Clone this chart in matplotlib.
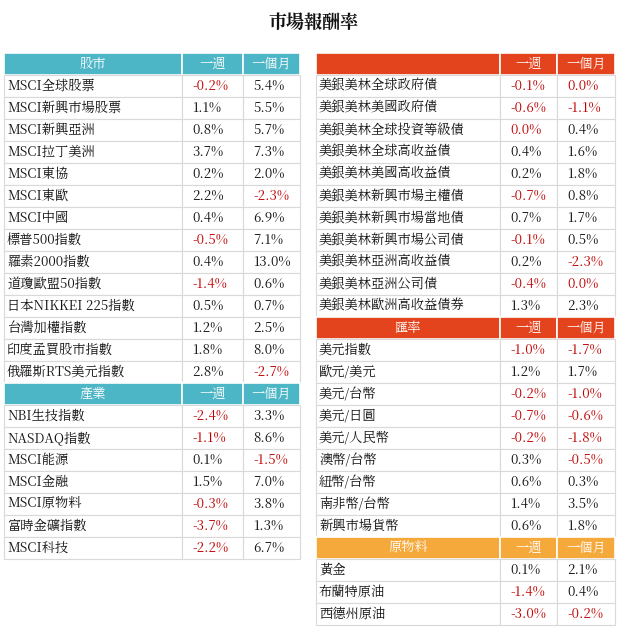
import matplotlib.pyplot as plt
from matplotlib import font_manager
from matplotlib.patches import Rectangle

cjk = [f.name for f in font_manager.fontManager.ttflist if "CJK" in f.name]
pref = [n for n in cjk if "TC" in n] or cjk
plt.rcParams["font.family"] = "sans-serif"
plt.rcParams["font.sans-serif"] = (pref[:1] if pref else []) + ["Noto Sans CJK TC", "DejaVu Sans"]

TITLE = "市場報酬率"
COL_WEEK = "一週"
COL_MONTH = "一個月"

# left block: names, week %, month %
stock_names = ["MSCI全球股票", "MSCI新興市場股票", "MSCI新興亞洲", "MSCI拉丁美洲", "MSCI東協",
               "MSCI東歐", "MSCI中國", "標普500指數", "羅素2000指數", "道瓊歐盟50指數",
               "日本NIKKEI 225指數", "台灣加權指數", "印度孟買股市指數", "俄羅斯RTS美元指數"]
stock_week = [-0.2, 1.1, 0.8, 3.7, 0.2, 2.2, 0.4, -0.5, 0.4, -1.4, 0.5, 1.2, 1.8, 2.8]
stock_month = [5.4, 5.5, 5.7, 7.3, 2.0, -2.3, 6.9, 7.1, 13.0, 0.6, 0.7, 2.5, 8.0, -2.7]

sector_names = ["NBI生技指數", "NASDAQ指數", "MSCI能源", "MSCI金融", "MSCI原物料", "富時金礦指數", "MSCI科技"]
sector_week = [-2.4, -1.1, 0.1, 1.5, -0.3, -3.7, -2.2]
sector_month = [3.3, 8.6, -1.5, 7.0, 3.8, 1.3, 6.7]

bond_names = ["美銀美林全球政府債", "美銀美林美國政府債", "美銀美林全球投資等級債", "美銀美林全球高收益債",
              "美銀美林美國高收益債", "美銀美林新興市場主權債", "美銀美林新興市場當地債", "美銀美林新興市場公司債",
              "美銀美林亞洲高收益債", "美銀美林亞洲公司債", "美銀美林歐洲高收益債券"]
bond_week = [-0.1, -0.6, 0.0, 0.4, 0.2, -0.7, 0.7, -0.1, 0.2, -0.4, 1.3]
bond_month = [0.0, -1.1, 0.4, 1.6, 1.8, 0.8, 1.7, 0.5, -2.3, 0.0, 2.3]
bond_week_red = [True, True, True, False, False, True, False, True, False, True, False]
bond_month_red = [True, True, False, False, False, False, False, False, True, True, False]

fx_names = ["美元指數", "歐元/美元", "美元/台幣", "美元/日圓", "美元/人民幣", "澳幣/台幣", "紐幣/台幣", "南非幣/台幣", "新興市場貨幣"]
fx_week = [-1.0, 1.2, -0.2, -0.7, -0.2, 0.3, 0.6, 1.4, 0.6]
fx_month = [-1.7, 1.7, -1.0, -0.6, -1.8, -0.5, 0.3, 3.5, 1.8]

cmd_names = ["黃金", "布蘭特原油", "西德州原油"]
cmd_week = [0.1, -1.4, -3.0]
cmd_month = [2.1, 0.4, -0.2]

TEAL = "#4db6c6"
RED_HDR = "#e4441d"
ORANGE_HDR = "#f6a93b"
NEG = "#c00000"
GRID = "#d9d9d9"

fig = plt.figure(figsize=(6.27, 6.30), dpi=100)
ax = fig.add_axes([0, 0, 1, 1])
ax.set_xlim(0, 627)
ax.set_ylim(630, 0)
ax.axis("off")

ax.text(313, 23, TITLE, ha="center", va="center", fontsize=13, fontweight="bold", color="#111111")

ROW_H = 22.0
FS = 9.5


def fmt(v):
    return f"{v:.1f}%"


def draw_section(x0, cols, y, header, color, names, week, month, wred=None, mred=None):
    xs = [x0, x0 + cols[0], x0 + cols[0] + cols[1], x0 + sum(cols)]
    for i in range(3):
        ax.add_patch(Rectangle((xs[i], y), xs[i + 1] - xs[i], ROW_H, facecolor=color,
                               edgecolor="white", linewidth=1.2))
    labels = [header, COL_WEEK, COL_MONTH]
    for i in range(3):
        ax.text((xs[i] + xs[i + 1]) / 2, y + ROW_H / 2, labels[i], ha="center", va="center",
                color="white", fontsize=FS)
    y += ROW_H
    for k, name in enumerate(names):
        for i in range(3):
            ax.add_patch(Rectangle((xs[i], y), xs[i + 1] - xs[i], ROW_H, facecolor="white",
                                   edgecolor=GRID, linewidth=0.8))
        ax.text(xs[0] + 3, y + ROW_H / 2, name, ha="left", va="center", fontsize=FS, color="#111111")
        w_neg = wred[k] if wred is not None else week[k] < 0
        m_neg = mred[k] if mred is not None else month[k] < 0
        ax.text(xs[1] + 10, y + ROW_H / 2, fmt(week[k]), ha="left", va="center", fontsize=FS,
                color=NEG if w_neg else "#111111")
        ax.text(xs[2] + 10, y + ROW_H / 2, fmt(month[k]), ha="left", va="center", fontsize=FS,
                color=NEG if m_neg else "#111111")
        y += ROW_H
    return y


LEFT_COLS = (178, 61, 57)
RIGHT_COLS = (184, 57, 58)

y = draw_section(4, LEFT_COLS, 53, "股市", TEAL, stock_names, stock_week, stock_month)
draw_section(4, LEFT_COLS, y, "產業", TEAL, sector_names, sector_week, sector_month)

y = draw_section(316, RIGHT_COLS, 53, "", RED_HDR, bond_names, bond_week, bond_month,
                 bond_week_red, bond_month_red)
y = draw_section(316, RIGHT_COLS, y, "匯率", RED_HDR, fx_names, fx_week, fx_month)
draw_section(316, RIGHT_COLS, y, "原物料", ORANGE_HDR, cmd_names, cmd_week, cmd_month)

fig.savefig("out.png", dpi=100, facecolor="white")
